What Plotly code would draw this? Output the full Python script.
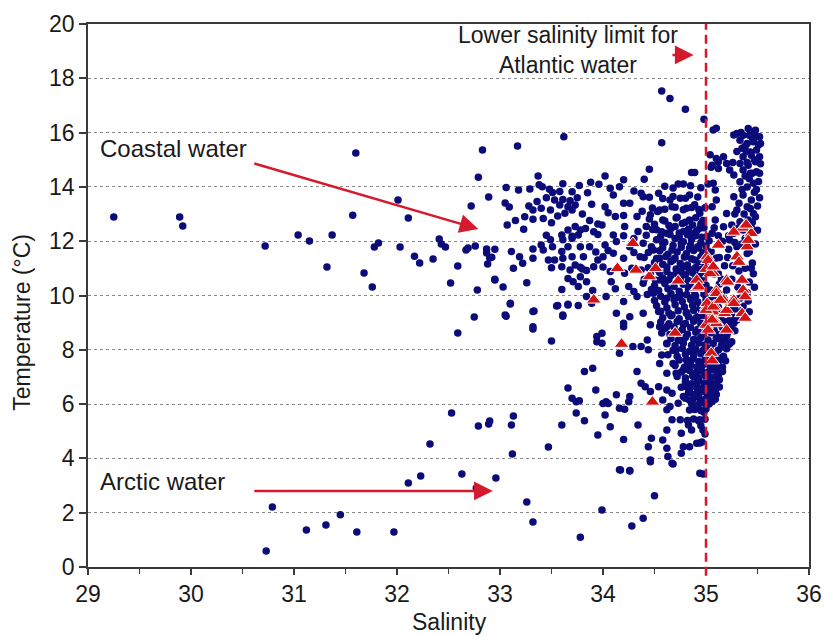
import plotly.graph_objects as go

# ---------------- data (salinity, temperature °C) ----------------
left_outliers = [
    (29.25, 12.89), (29.89, 12.89), (29.92, 12.56), (30.72, 11.82), (31.04, 12.23), (31.15, 12.01),
    (31.37, 12.23), (31.32, 11.05), (31.60, 15.25), (31.57, 12.96), (31.68, 10.83), (31.76, 10.31),
    (31.78, 11.79), (31.82, 11.93), (32.01, 13.52), (32.03, 11.79), (32.11, 12.85), (32.17, 11.45),
    (32.22, 11.20), (32.35, 11.34), (32.41, 12.08), (32.43, 11.90), (32.47, 11.79), (32.52, 10.46),
    (32.59, 11.09), (32.67, 11.68), (32.69, 11.75), (32.72, 13.30), (32.76, 11.82), (32.78, 10.20),
    (32.79, 14.36), (32.83, 15.36), (32.87, 11.57), (32.89, 13.63), (32.90, 11.38), (32.95, 10.57),
    (33.03, 10.31), (33.05, 13.41), (33.09, 13.26), (33.17, 15.51),
]

lower_left = [
    (30.79, 2.21), (30.73, 0.59), (31.12, 1.36), (31.31, 1.55), (31.45, 1.92), (31.61, 1.29),
    (31.97, 1.29), (32.11, 3.09), (32.23, 3.35), (32.32, 4.53), (32.53, 5.67), (32.59, 8.62),
    (32.63, 3.43), (32.75, 9.21), (32.77, 2.91), (32.79, 5.19), (32.89, 5.27), (32.90, 5.38),
    (32.96, 3.28), (33.06, 9.24), (33.10, 9.69), (33.11, 5.23), (33.13, 5.56), (33.12, 4.16),
    (33.26, 2.39), (33.32, 1.66), (33.32, 8.77), (33.33, 9.43), (33.47, 4.42), (33.50, 8.32),
    (33.55, 9.61), (33.60, 5.23), (33.61, 9.24), (33.66, 6.59), (33.66, 9.65), (33.70, 6.22),
    (33.74, 5.67), (33.78, 1.10), (33.94, 8.49), (33.94, 8.30), (33.82, 7.20), (33.90, 7.32),
    (33.93, 6.52), (33.77, 6.12), (33.82, 5.39), (33.95, 4.86), (33.89, 9.71), (33.74, 6.09),
    (34.00, 6.02), (34.05, 6.02), (33.99, 2.10),
]

deep_lower = [
    (34.28, 1.51), (34.39, 1.80), (34.50, 2.62), (34.17, 3.57), (34.26, 3.54), (34.46, 3.94),
    (34.68, 3.79), (34.97, 3.43), (34.94, 4.57), (34.13, 6.34), (34.26, 6.28), (34.25, 6.09),
    (34.03, 6.09), (34.21, 5.81), (34.02, 5.60), (34.16, 5.85), (34.07, 5.17), (34.34, 5.23),
    (34.62, 5.79), (34.67, 5.42), (34.75, 5.42), (34.83, 5.23), (34.62, 5.05), (34.76, 4.93),
    (34.86, 5.05), (34.20, 4.70), (34.47, 4.74), (34.58, 4.68), (34.44, 4.43), (34.62, 4.37),
    (34.78, 4.43), (34.63, 4.07), (34.46, 3.88), (34.67, 3.82), (34.76, 4.19), (34.84, 4.43),
    (34.91, 4.56), (34.16, 3.58), (34.26, 3.55), (34.94, 3.45), (34.97, 5.05), (34.94, 5.42),
    (34.65, 5.91), (34.73, 6.03), (34.94, 6.03), (34.89, 5.80), (34.98, 5.70), (34.95, 5.20),
    (34.99, 4.90), (34.96, 4.60), (34.82, 5.40), (34.88, 5.45), (34.93, 5.38), (34.99, 5.44),
    (34.84, 5.78), (34.90, 5.84), (34.95, 5.76), (35.00, 5.82),
]

intermediate = [
    (33.99, 8.61), (33.99, 8.24), (34.16, 7.87), (34.29, 8.12), (34.37, 8.12), (34.43, 8.36),
    (34.44, 8.00), (34.57, 7.81), (34.55, 7.50), (34.33, 7.20), (34.37, 6.77), (34.41, 6.64),
    (34.46, 6.46), (34.54, 6.64), (34.62, 6.52), (34.67, 6.40), (34.58, 6.15), (34.78, 6.28),
    (34.84, 6.15), (34.91, 6.40), (34.78, 7.26), (34.81, 7.63), (34.71, 7.99), (34.75, 8.36),
    (34.88, 7.87), (34.88, 7.01), (34.91, 6.77), (34.94, 7.50), (34.91, 8.36), (34.62, 8.24),
    (34.55, 8.85), (34.20, 8.98), (34.71, 7.14), (34.81, 6.64), (34.62, 7.14), (34.68, 7.50),
]

coastal = [
    (33.37, 14.40), (33.88, 14.17), (33.06, 13.98), (33.18, 13.89), (33.29, 13.92), (33.38, 14.08),
    (33.41, 14.01), (33.48, 13.91), (33.61, 14.12), (33.77, 14.05), (33.96, 14.10), (33.28, 13.30),
    (33.36, 13.46), (33.45, 13.60), (33.51, 13.79), (33.58, 13.83), (33.53, 13.52), (33.61, 13.54),
    (33.68, 13.49), (33.75, 13.60), (33.32, 13.15), (33.40, 13.21), (33.49, 13.15), (33.58, 13.33),
    (33.66, 13.27), (33.73, 13.33), (33.89, 13.36), (33.07, 12.60), (33.15, 12.76), (33.23, 12.44),
    (33.24, 12.90), (33.32, 12.81), (33.42, 12.84), (33.50, 12.68), (33.56, 12.93), (33.63, 13.03),
    (33.70, 13.15), (33.87, 12.76), (33.95, 12.63), (33.60, 12.23), (33.66, 12.41), (33.73, 12.54),
    (33.78, 12.41), (33.83, 12.47), (33.91, 12.35), (32.87, 11.71), (32.95, 11.70), (32.92, 11.41),
    (32.88, 11.16), (33.11, 11.62), (33.19, 11.43), (33.22, 11.19), (33.13, 11.00), (33.32, 11.71),
    (33.32, 11.37), (33.40, 11.86), (33.42, 11.68), (33.49, 12.05), (33.51, 11.80), (33.47, 11.31),
    (33.53, 11.31), (33.61, 11.37), (33.70, 11.43), (33.73, 11.12), (33.60, 11.06), (33.68, 10.94),
    (33.78, 11.04), (33.84, 10.92), (33.91, 11.06), (33.95, 11.31), (33.81, 11.43), (33.87, 11.80),
    (33.78, 11.80), (33.66, 11.80), (33.61, 12.05), (33.70, 12.11), (33.76, 12.23), (32.95, 10.60),
    (33.26, 10.47), (33.66, 10.63), (33.71, 10.51), (33.78, 10.69), (33.84, 10.51), (33.76, 10.33),
    (33.84, 9.96), (33.10, 9.71), (33.05, 9.28), (33.32, 9.41), (33.56, 9.63), (33.66, 9.68),
    (33.76, 9.63), (33.61, 9.28), (33.32, 8.85),
    (33.70, 13.82), (33.85, 13.78), (34.10, 13.70), (34.30, 13.85), (33.80, 13.00), (34.05, 13.05),
    (34.20, 12.95), (34.38, 13.10), (33.45, 12.22), (33.70, 12.18), (33.95, 12.25), (34.20, 12.20),
    (34.30, 12.10), (33.60, 11.62), (33.93, 11.60), (34.05, 11.66), (34.30, 11.58), (33.50, 11.02),
    (33.80, 10.98), (34.00, 11.05), (34.28, 11.00), (33.60, 10.22), (33.90, 10.18), (34.12, 10.25),
    (34.30, 10.15),
]

upper_center = [
    (34.57, 17.53), (34.65, 17.26), (34.80, 16.86), (34.98, 16.49), (34.57, 15.63), (35.07, 16.10),
    (35.10, 16.16), (35.04, 15.18), (35.12, 14.93), (35.05, 14.72), (34.45, 14.65), (34.86, 14.53),
    (34.89, 14.53), (34.02, 14.40), (34.20, 14.26), (34.40, 14.28), (34.73, 14.11), (34.78, 14.11),
    (35.02, 14.11), (34.07, 13.95), (34.16, 14.01), (34.37, 13.77), (34.39, 13.64), (34.54, 13.77),
    (34.65, 13.52), (34.75, 13.58), (34.84, 13.70), (35.09, 13.89), (34.02, 13.27), (34.26, 13.40),
    (34.20, 13.40), (34.55, 13.15), (34.53, 13.09), (34.67, 13.27), (34.81, 13.21), (34.89, 13.34),
    (34.12, 12.91), (34.33, 12.91), (34.46, 12.97), (34.58, 12.78), (34.71, 12.85), (34.84, 12.78),
    (34.94, 13.03), (33.99, 12.60), (34.10, 12.23), (34.21, 12.54), (34.34, 12.36), (34.42, 12.54),
    (34.52, 12.42), (34.62, 12.29), (34.70, 12.54), (34.78, 12.36), (34.88, 12.29), (34.94, 12.48),
    (35.01, 12.17), (34.02, 11.86), (34.13, 11.99), (34.26, 11.80), (34.39, 11.92), (34.49, 11.68),
    (34.58, 11.92), (34.67, 11.68), (34.76, 11.92), (34.84, 11.74), (34.92, 11.80), (34.00, 11.43),
    (34.10, 11.56), (34.20, 11.37), (34.36, 11.43), (34.55, 11.37), (34.68, 11.31), (34.80, 11.43),
    (34.89, 11.31), (34.07, 10.88), (34.21, 10.82), (34.37, 10.94), (34.62, 10.88), (34.75, 10.88),
    (34.84, 10.94), (34.94, 10.82), (34.08, 10.51), (34.25, 10.33), (34.39, 10.45), (34.55, 10.57),
    (34.83, 10.45), (34.94, 10.39), (34.03, 9.96), (34.20, 9.78), (34.33, 9.96), (34.49, 10.08),
    (34.62, 9.90), (34.75, 10.02), (34.88, 9.96), (34.13, 9.35), (34.26, 9.22), (34.39, 9.35),
    (34.54, 9.41), (34.67, 9.29), (34.81, 9.35), (34.92, 9.22), (34.20, 8.85), (34.46, 8.92),
    (34.62, 8.85), (34.78, 8.92), (33.62, 15.85),
]

dense_core = [
    (34.45, 12.82), (34.60, 12.74), (34.72, 12.88), (34.80, 12.70), (34.90, 12.86), (34.97, 12.76),
    (34.48, 12.43), (34.57, 12.35), (34.66, 12.47), (34.74, 12.30), (34.83, 12.44), (34.91, 12.38),
    (34.98, 12.50), (34.52, 12.05), (34.60, 11.96), (34.70, 12.10), (34.78, 11.98), (34.86, 12.06),
    (34.95, 11.95), (35.03, 12.02), (34.44, 11.58), (34.55, 11.65), (34.63, 11.52), (34.72, 11.60),
    (34.81, 11.55), (34.88, 11.66), (34.97, 11.57), (35.05, 11.62), (34.50, 11.22), (34.58, 11.15),
    (34.66, 11.25), (34.75, 11.18), (34.82, 11.12), (34.93, 11.24), (34.99, 11.16), (34.46, 10.78),
    (34.55, 10.85), (34.66, 10.74), (34.71, 10.82), (34.80, 10.76), (34.87, 10.84), (34.97, 10.70),
    (35.08, 10.79), (34.50, 10.36), (34.60, 10.44), (34.69, 10.33), (34.78, 10.41), (34.86, 10.35),
    (34.92, 10.46), (35.00, 10.38), (35.13, 10.42), (34.43, 10.04), (34.56, 9.97), (34.66, 10.06),
    (34.72, 9.94), (34.81, 10.03), (34.90, 9.98), (34.98, 10.05), (35.06, 9.95), (35.15, 10.02),
    (34.52, 9.62), (34.62, 9.55), (34.70, 9.66), (34.79, 9.58), (34.87, 9.64), (34.94, 9.54),
    (35.03, 9.63), (35.12, 9.57), (35.22, 9.61), (34.58, 9.18), (34.66, 9.25), (34.74, 9.14),
    (34.83, 9.22), (34.90, 9.16), (34.97, 9.26), (35.05, 9.19), (35.14, 9.23), (35.24, 9.15),
    (34.60, 8.78), (34.69, 8.84), (34.77, 8.74), (34.85, 8.82), (34.92, 8.76), (34.99, 8.85),
    (35.07, 8.79), (35.16, 8.83), (35.23, 8.74), (34.66, 8.42), (34.73, 8.35), (34.80, 8.45),
    (34.88, 8.38), (34.95, 8.44), (35.02, 8.36), (35.10, 8.43), (35.18, 8.37), (34.68, 7.98),
    (34.77, 8.05), (34.84, 7.95), (34.90, 8.03), (34.97, 7.97), (35.04, 8.06), (35.12, 7.99),
    (35.20, 8.04), (34.74, 7.62), (34.82, 7.55), (34.87, 7.65), (34.93, 7.57), (34.99, 7.63),
    (35.06, 7.54), (35.13, 7.61), (34.76, 7.18), (34.84, 7.24), (34.90, 7.15), (34.96, 7.22),
    (35.02, 7.17), (35.08, 7.25), (35.14, 7.19), (34.80, 6.82), (34.86, 6.75), (34.92, 6.85),
    (34.98, 6.78), (35.04, 6.83), (35.10, 6.76), (34.83, 6.42), (34.88, 6.35), (34.95, 6.45),
    (35.01, 6.38), (35.06, 6.43), (34.86, 6.02), (34.92, 5.96), (34.97, 6.05), (35.03, 6.00),
]

dense_core_b = [
    (34.50, 12.62), (34.64, 12.58), (34.77, 12.65), (34.87, 12.60), (34.95, 12.63), (34.42, 12.22),
    (34.56, 12.18), (34.65, 12.25), (34.74, 12.16), (34.82, 12.24), (34.90, 12.20), (34.96, 12.15),
    (34.47, 11.80), (34.58, 11.76), (34.68, 11.84), (34.76, 11.78), (34.85, 11.86), (34.93, 11.75),
    (35.00, 11.82), (34.40, 11.40), (34.52, 11.36), (34.61, 11.44), (34.70, 11.38), (34.79, 11.42),
    (34.86, 11.35), (34.95, 11.43), (35.10, 11.38), (34.44, 11.02), (34.53, 10.96), (34.62, 11.05),
    (34.71, 10.98), (34.78, 11.04), (34.85, 10.95), (34.90, 11.03), (34.96, 10.97), (34.40, 10.60),
    (34.51, 10.56), (34.58, 10.64), (34.64, 10.58), (34.75, 10.62), (34.83, 10.55), (34.90, 10.63),
    (34.95, 10.57), (35.15, 10.60), (34.47, 10.22), (34.54, 10.18), (34.63, 10.25), (34.74, 10.16),
    (34.83, 10.23), (34.89, 10.17), (34.96, 10.24), (35.04, 10.20), (34.50, 9.82), (34.60, 9.76),
    (34.69, 9.84), (34.77, 9.78), (34.85, 9.85), (34.92, 9.76), (35.00, 9.83), (35.09, 9.78),
    (35.18, 9.84), (34.56, 9.42), (34.64, 9.36), (34.73, 9.44), (34.81, 9.38), (34.88, 9.45),
    (34.96, 9.37), (35.02, 9.43), (35.12, 9.38), (35.21, 9.44), (34.56, 9.02), (34.64, 8.96),
    (34.72, 9.04), (34.80, 8.97), (34.88, 9.05), (34.95, 8.98), (35.03, 9.03), (35.12, 8.96),
    (35.19, 9.04), (35.27, 8.98), (34.57, 8.62), (34.65, 8.56), (34.73, 8.64), (34.82, 8.57),
    (34.90, 8.65), (34.97, 8.58), (35.05, 8.63), (35.13, 8.56), (35.21, 8.62), (34.62, 8.22),
    (34.70, 8.16), (34.78, 8.24), (34.86, 8.17), (34.93, 8.25), (34.99, 8.18), (35.07, 8.23),
    (35.15, 8.16), (35.23, 8.22), (34.63, 7.82), (34.72, 7.76), (34.80, 7.84), (34.88, 7.77),
    (34.95, 7.85), (35.02, 7.78), (35.09, 7.83), (35.17, 7.76), (34.70, 7.42), (34.79, 7.36),
    (34.85, 7.44), (34.91, 7.37), (34.97, 7.45), (35.04, 7.38), (35.10, 7.43), (35.16, 7.36),
    (34.72, 7.02), (34.80, 6.96), (34.87, 7.04), (34.93, 6.97), (34.99, 7.05), (35.05, 6.98),
    (35.12, 7.03), (34.76, 6.62), (34.84, 6.56), (34.90, 6.64), (34.96, 6.57), (35.02, 6.65),
    (35.07, 6.58), (35.13, 6.63), (34.80, 6.22), (34.87, 6.16), (34.93, 6.24), (34.99, 6.17),
    (35.04, 6.25), (35.09, 6.18), (34.48, 13.22), (34.60, 13.18), (34.70, 13.25), (34.78, 13.16),
    (34.86, 13.24), (34.93, 13.17), (34.99, 13.23), (34.45, 13.62), (34.58, 13.57), (34.68, 13.65),
    (34.80, 13.58), (34.92, 13.63), (34.60, 14.02), (34.68, 13.96), (34.85, 14.04), (34.95, 13.97),
]

atlantic_column = [
    (35.27, 15.91), (35.30, 15.97), (35.41, 16.15), (35.48, 16.09), (35.33, 15.72), (35.40, 15.60),
    (35.46, 15.66), (35.51, 15.54), (35.35, 15.42), (35.43, 15.29), (35.49, 15.36), (35.36, 15.11),
    (35.44, 15.17), (35.52, 15.11), (35.33, 14.86), (35.41, 14.80), (35.48, 14.93), (35.10, 15.05),
    (35.17, 15.11), (35.20, 14.86), (35.06, 14.80), (35.12, 14.68), (35.23, 14.62), (35.27, 14.44),
    (35.36, 14.62), (35.43, 14.50), (35.49, 14.56), (35.52, 14.50), (35.07, 14.13), (35.33, 14.19),
    (35.40, 14.00), (35.46, 14.13), (35.27, 13.64), (35.36, 13.70), (35.44, 13.52), (35.30, 13.15),
    (35.40, 13.27), (35.46, 13.02), (35.33, 12.72), (35.41, 12.78), (35.27, 12.29), (35.36, 12.41),
    (35.06, 12.29), (35.10, 13.52), (35.06, 13.27), (35.20, 13.02), (35.09, 12.78), (35.17, 12.53),
    (35.23, 12.04), (35.30, 11.80), (35.40, 11.55), (35.22, 12.20), (35.28, 11.95), (35.35, 11.90),
    (35.42, 11.60), (35.45, 11.20), (35.38, 11.00), (35.32, 10.90), (35.25, 10.60), (35.42, 10.50),
    (35.46, 10.80), (35.40, 10.10), (35.33, 9.90), (35.28, 9.50), (35.36, 9.60), (35.42, 9.40),
    (35.30, 9.10), (35.24, 8.90), (35.20, 8.50), (35.25, 8.30), (35.17, 8.10), (35.15, 7.70),
    (35.12, 7.30), (35.10, 7.00), (35.08, 6.70), (35.05, 6.40), (35.10, 6.35), (35.06, 6.10),
    (35.13, 11.40), (35.18, 11.10), (35.12, 10.80), (35.20, 10.20), (35.10, 9.90), (35.15, 9.10),
    (35.08, 8.70), (35.13, 8.40), (35.22, 11.70), (35.16, 12.00), (35.08, 12.50), (35.12, 12.20),
    (35.38, 12.10), (35.44, 12.50), (35.48, 12.90), (35.50, 13.30), (35.47, 13.80), (35.51, 14.20),
    (35.45, 14.50), (35.38, 14.40), (35.35, 13.90), (35.32, 13.40), (35.28, 13.00), (35.25, 12.60),
    (35.36, 15.90), (35.50, 15.85), (35.53, 15.60), (35.42, 15.90), (35.47, 16.05), (35.38, 15.50),
    (35.30, 15.30), (35.26, 14.90), (35.40, 14.90),
    (35.34, 16.00), (35.45, 15.80), (35.52, 15.85), (35.39, 15.30), (35.47, 15.00), (35.53, 14.85),
    (35.42, 14.30), (35.49, 13.90), (35.43, 13.20), (35.52, 13.60), (35.37, 13.00), (35.45, 12.70),
    (35.50, 12.40), (35.32, 12.50), (35.48, 11.90), (35.44, 11.00), (35.47, 10.30), (35.41, 9.80),
    (35.34, 9.40), (35.28, 8.70), (35.22, 8.20), (35.19, 7.60), (35.16, 7.20), (35.13, 6.90),
    (35.09, 6.50), (35.05, 6.20), (35.25, 9.25), (35.31, 10.30), (35.26, 11.10), (35.21, 11.40),
]

triangles = [
    (33.91, 9.84), (34.18, 8.21), (34.70, 8.62), (34.48, 6.08), (35.05, 7.88), (35.06, 7.60),
    (34.29, 11.92), (34.14, 11.00), (34.32, 10.94), (34.45, 10.70), (34.51, 11.00), (34.73, 10.54),
    (34.91, 10.27), (35.01, 11.43), (35.00, 10.97), (35.07, 10.82), (35.10, 10.18), (35.01, 9.59),
    (35.08, 9.62), (35.04, 9.10), (35.36, 12.49), (35.44, 12.29), (35.40, 11.80), (35.12, 11.86),
    (35.30, 11.43), (35.02, 11.30), (34.91, 10.57), (34.93, 10.32), (35.04, 10.81), (35.07, 11.06),
    (35.20, 10.57), (35.10, 10.08), (35.17, 9.83), (35.27, 9.83), (35.35, 10.57), (35.36, 10.20),
    (35.38, 9.96), (35.01, 9.71), (35.07, 9.40), (35.10, 9.03), (35.18, 9.34), (35.00, 8.91),
    (35.00, 9.46), (35.07, 9.58), (35.20, 9.46), (35.27, 9.71), (35.35, 9.34), (35.10, 8.97),
    (35.20, 8.73), (35.27, 12.34), (35.39, 12.60), (35.41, 12.04), (35.32, 11.23), (35.21, 10.50),
    (35.14, 9.83), (35.38, 9.17), (35.06, 9.10), (35.02, 8.73),
]

x_ticks = [29, 30, 31, 32, 33, 34, 35, 36]
y_ticks = [0, 2, 4, 6, 8, 10, 12, 14, 16, 18, 20]
atlantic_limit = 35.0

dots = (left_outliers + lower_left + deep_lower + intermediate + coastal + upper_center
        + dense_core + dense_core_b + atlantic_column)
dot_sal = [p[0] for p in dots]
dot_temp = [p[1] for p in dots]
tri_sal = [p[0] for p in triangles]
tri_temp = [p[1] for p in triangles]

FONT = "Liberation Sans, Arial, Helvetica, sans-serif"
RED = "#d5192e"
NAVY = "#0b0b7a"
AXC = "#3a3a3a"
TXT = "#1a1a1a"

fig = go.Figure()
fig.add_trace(go.Scatter(
    x=dot_sal, y=dot_temp, mode="markers",
    marker=dict(color=NAVY, size=7.5, line=dict(width=0)),
    showlegend=False, hoverinfo="skip"))
fig.add_trace(go.Scatter(
    x=tri_sal, y=tri_temp, mode="markers",
    marker=dict(symbol="triangle-up", color="#d41414", size=13, line=dict(color="white", width=1)),
    showlegend=False, hoverinfo="skip"))

fig.add_shape(type="line", xref="x", yref="paper", x0=atlantic_limit, x1=atlantic_limit,
              y0=-0.016, y1=1.0, layer="above",
              line=dict(color=RED, width=2.5, dash="9px,5px"))

def arrow(x, y, ax, ay):
    fig.add_annotation(x=x, y=y, ax=ax, ay=ay, xref="x", yref="y", axref="x", ayref="y",
                       text="", showarrow=True, arrowhead=2, arrowsize=1.5, arrowwidth=2.5,
                       arrowcolor=RED, standoff=0, startstandoff=0)

def label(x, y, text, anchor="left", size=24):
    fig.add_annotation(x=x, y=y, xref="x", yref="y", text=text, showarrow=False,
                       xanchor=anchor, yanchor="middle", font=dict(size=size, color=TXT, family=FONT))

label(29.1, 15.43, "Coastal water")
arrow(32.79, 12.45, 30.6, 14.88)
label(29.1, 3.15, "Arctic water")
arrow(32.93, 2.80, 30.6, 2.80)
label(33.66, 19.05, "Lower salinity limit for<br>Atlantic water", "center", 23)
arrow(34.88, 18.86, 34.66, 18.86)

# axis titles as free text so their spot matches the reference
fig.add_annotation(x=-0.0915, y=0.45, xref="paper", yref="paper", text="Temperature (°C)",
                   textangle=-90, showarrow=False, xanchor="center", yanchor="middle",
                   font=dict(size=23, color=TXT, family=FONT))
fig.add_annotation(x=0.502, y=-0.102, xref="paper", yref="paper", text="Salinity",
                   showarrow=False, xanchor="center", yanchor="middle",
                   font=dict(size=23, color=TXT, family=FONT))

fig.update_layout(
    width=824, height=637,
    margin=dict(l=88, r=15, t=24, b=70, autoexpand=False),
    paper_bgcolor="white", plot_bgcolor="white",
    font=dict(family=FONT, color=TXT, size=23),
    xaxis=dict(range=[29, 36], tickvals=x_ticks, ticks="outside", ticklen=6, tickwidth=1.5,
               tickcolor=AXC, showline=True, linecolor=AXC, linewidth=1.5, mirror=True,
               showgrid=False, zeroline=False, tickfont=dict(size=23), automargin=False,
               minor=dict(tickvals=[29.5, 30.5, 31.5, 32.5, 33.5, 34.5, 35.5], ticks="outside",
                          ticklen=5, tickwidth=1.2, tickcolor=AXC, showgrid=False)),
    yaxis=dict(range=[0, 20], tickvals=y_ticks, ticks="outside", ticklen=7, tickwidth=1.5,
               tickcolor=AXC, showline=True, linecolor=AXC, linewidth=1.5, mirror=True,
               showgrid=True, gridcolor="#8a8a8a", griddash="dot", gridwidth=1,
               zeroline=False, tickfont=dict(size=23), automargin=False),
)

fig.write_html("out.html")
